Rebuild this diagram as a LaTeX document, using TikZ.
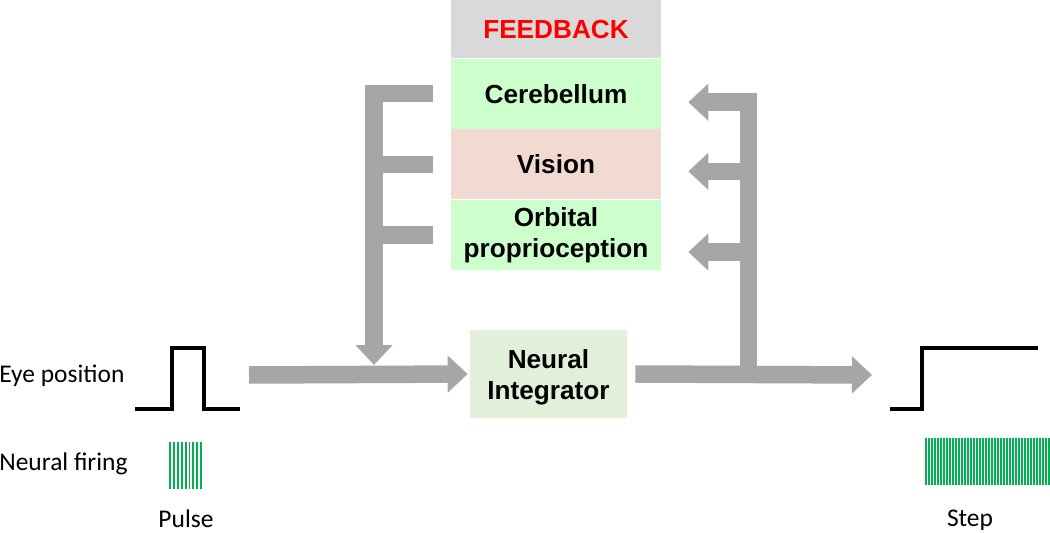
\documentclass[tikz,border=0pt]{standalone}
\usepackage{fontspec}
\setmainfont{Carlito}
\newfontfamily\boxfont{Liberation Sans}
\usepackage{tikz}
\usetikzlibrary{arrows.meta,positioning}
\definecolor{fbgray}{HTML}{D9D9D9}
\definecolor{fbgreen}{HTML}{CCFFCC}
\definecolor{fbpink}{HTML}{F2DAD2}
\definecolor{nigreen}{HTML}{E2F0D9}
\definecolor{arrowgray}{HTML}{A6A6A6}
\definecolor{firegreen}{HTML}{00B050}

\begin{document}
\begin{tikzpicture}[x=0.02cm,y=-0.02cm,
    fbbox/.style={rectangle, minimum width=4.2cm, minimum height=1.4cm, inner sep=0pt, align=center,
        font=\boxfont\bfseries\fontsize{14.9}{17.8}\selectfont},
    bigarrow/.style={draw=arrowgray, line width=0.35cm, line join=miter,
        -{Triangle[width=0.72cm,length=0.4cm]}},
    branch/.style={draw=arrowgray, line width=0.35cm},
    wave/.style={line width=2pt, line join=miter},
    plain/.style={font=\fontsize{14.5}{17}\selectfont, inner sep=0pt}]

    \useasboundingbox (0,0) rectangle (1050,533);

    % feedback column
    \node[fbbox, fill=fbgray, minimum height=1.16cm, text=red] (fb) at (556,29) {FEEDBACK};
    \node[fbbox, fill=fbgreen, below=0pt of fb] (cer) {Cerebellum};
    \node[fbbox, fill=fbpink, below=0pt of cer] (vis) {Vision};
    \node[fbbox, fill=fbgreen, below=0pt of vis] (orb) {Orbital\\proprioception};

    % integrator
    \node[fbbox, fill=nigreen, minimum width=3.14cm, minimum height=1.76cm] (ni) at (548.5,374) {};
    \node[fbbox, minimum width=0pt, minimum height=0pt] (nitext) at ([yshift=-0.06cm]ni.center) {Neural\\Integrator};

    \coordinate (pulseout) at (249,375);
    \coordinate (stepin) at (872,375);
    \coordinate (fbin) at (374,365);
    \coordinate (fbout) at (748.5,375);

    % main path
    \draw[bigarrow] (pulseout) -- ([xshift=-0.04cm]ni.west);
    \draw[bigarrow] ([xshift=0.16cm]ni.east) -- (stepin);

    % feedback into the input
    \draw[bigarrow] ([xshift=-0.36cm]cer.west) -| (fbin);
    \draw[branch] ([xshift=-0.36cm]vis.west) -- (vis.west -| fbin);
    \draw[branch] ([xshift=-0.36cm]orb.west) -- (orb.west -| fbin);

    % output back to the feedback column
    \draw[bigarrow] (fbout) |- ([xshift=0.54cm,yshift=-0.17cm]cer.east);
    \draw[bigarrow] ([yshift=-0.14cm]fbout |- vis.east) -- ([xshift=0.54cm,yshift=-0.14cm]vis.east);
    \draw[bigarrow] ([yshift=-0.34cm]fbout |- orb.east) -- ([xshift=0.54cm,yshift=-0.34cm]orb.east);

    % pulse and step
    \draw[wave] (135,409) -- (172,409) -- (172,348) -- (204,348) -- (204,409) -- (240,409);
    \draw[wave] (890,409) -- (922,409) -- (922,348) -- (1038,348);
    \foreach \i in {0,...,8}
        \draw[firegreen, line width=1.1pt] (170+3.9*\i,442) -- (170+3.9*\i,489);
    \foreach \i in {0,...,41}
        \draw[firegreen, line width=0.85pt] (926+3*\i,438) -- (926+3*\i,485);

    % labels
    \node[plain, anchor=west] (eyelbl) at (-1,376) {Eye position};
    \node[plain, anchor=west] (firelbl) at (-1,464) {Neural firing};
    \node[plain] (pulselbl) at (186,519) {Pulse};
    \node[plain] (steplbl) at (970,520) {Step};
\end{tikzpicture}
\end{document}
